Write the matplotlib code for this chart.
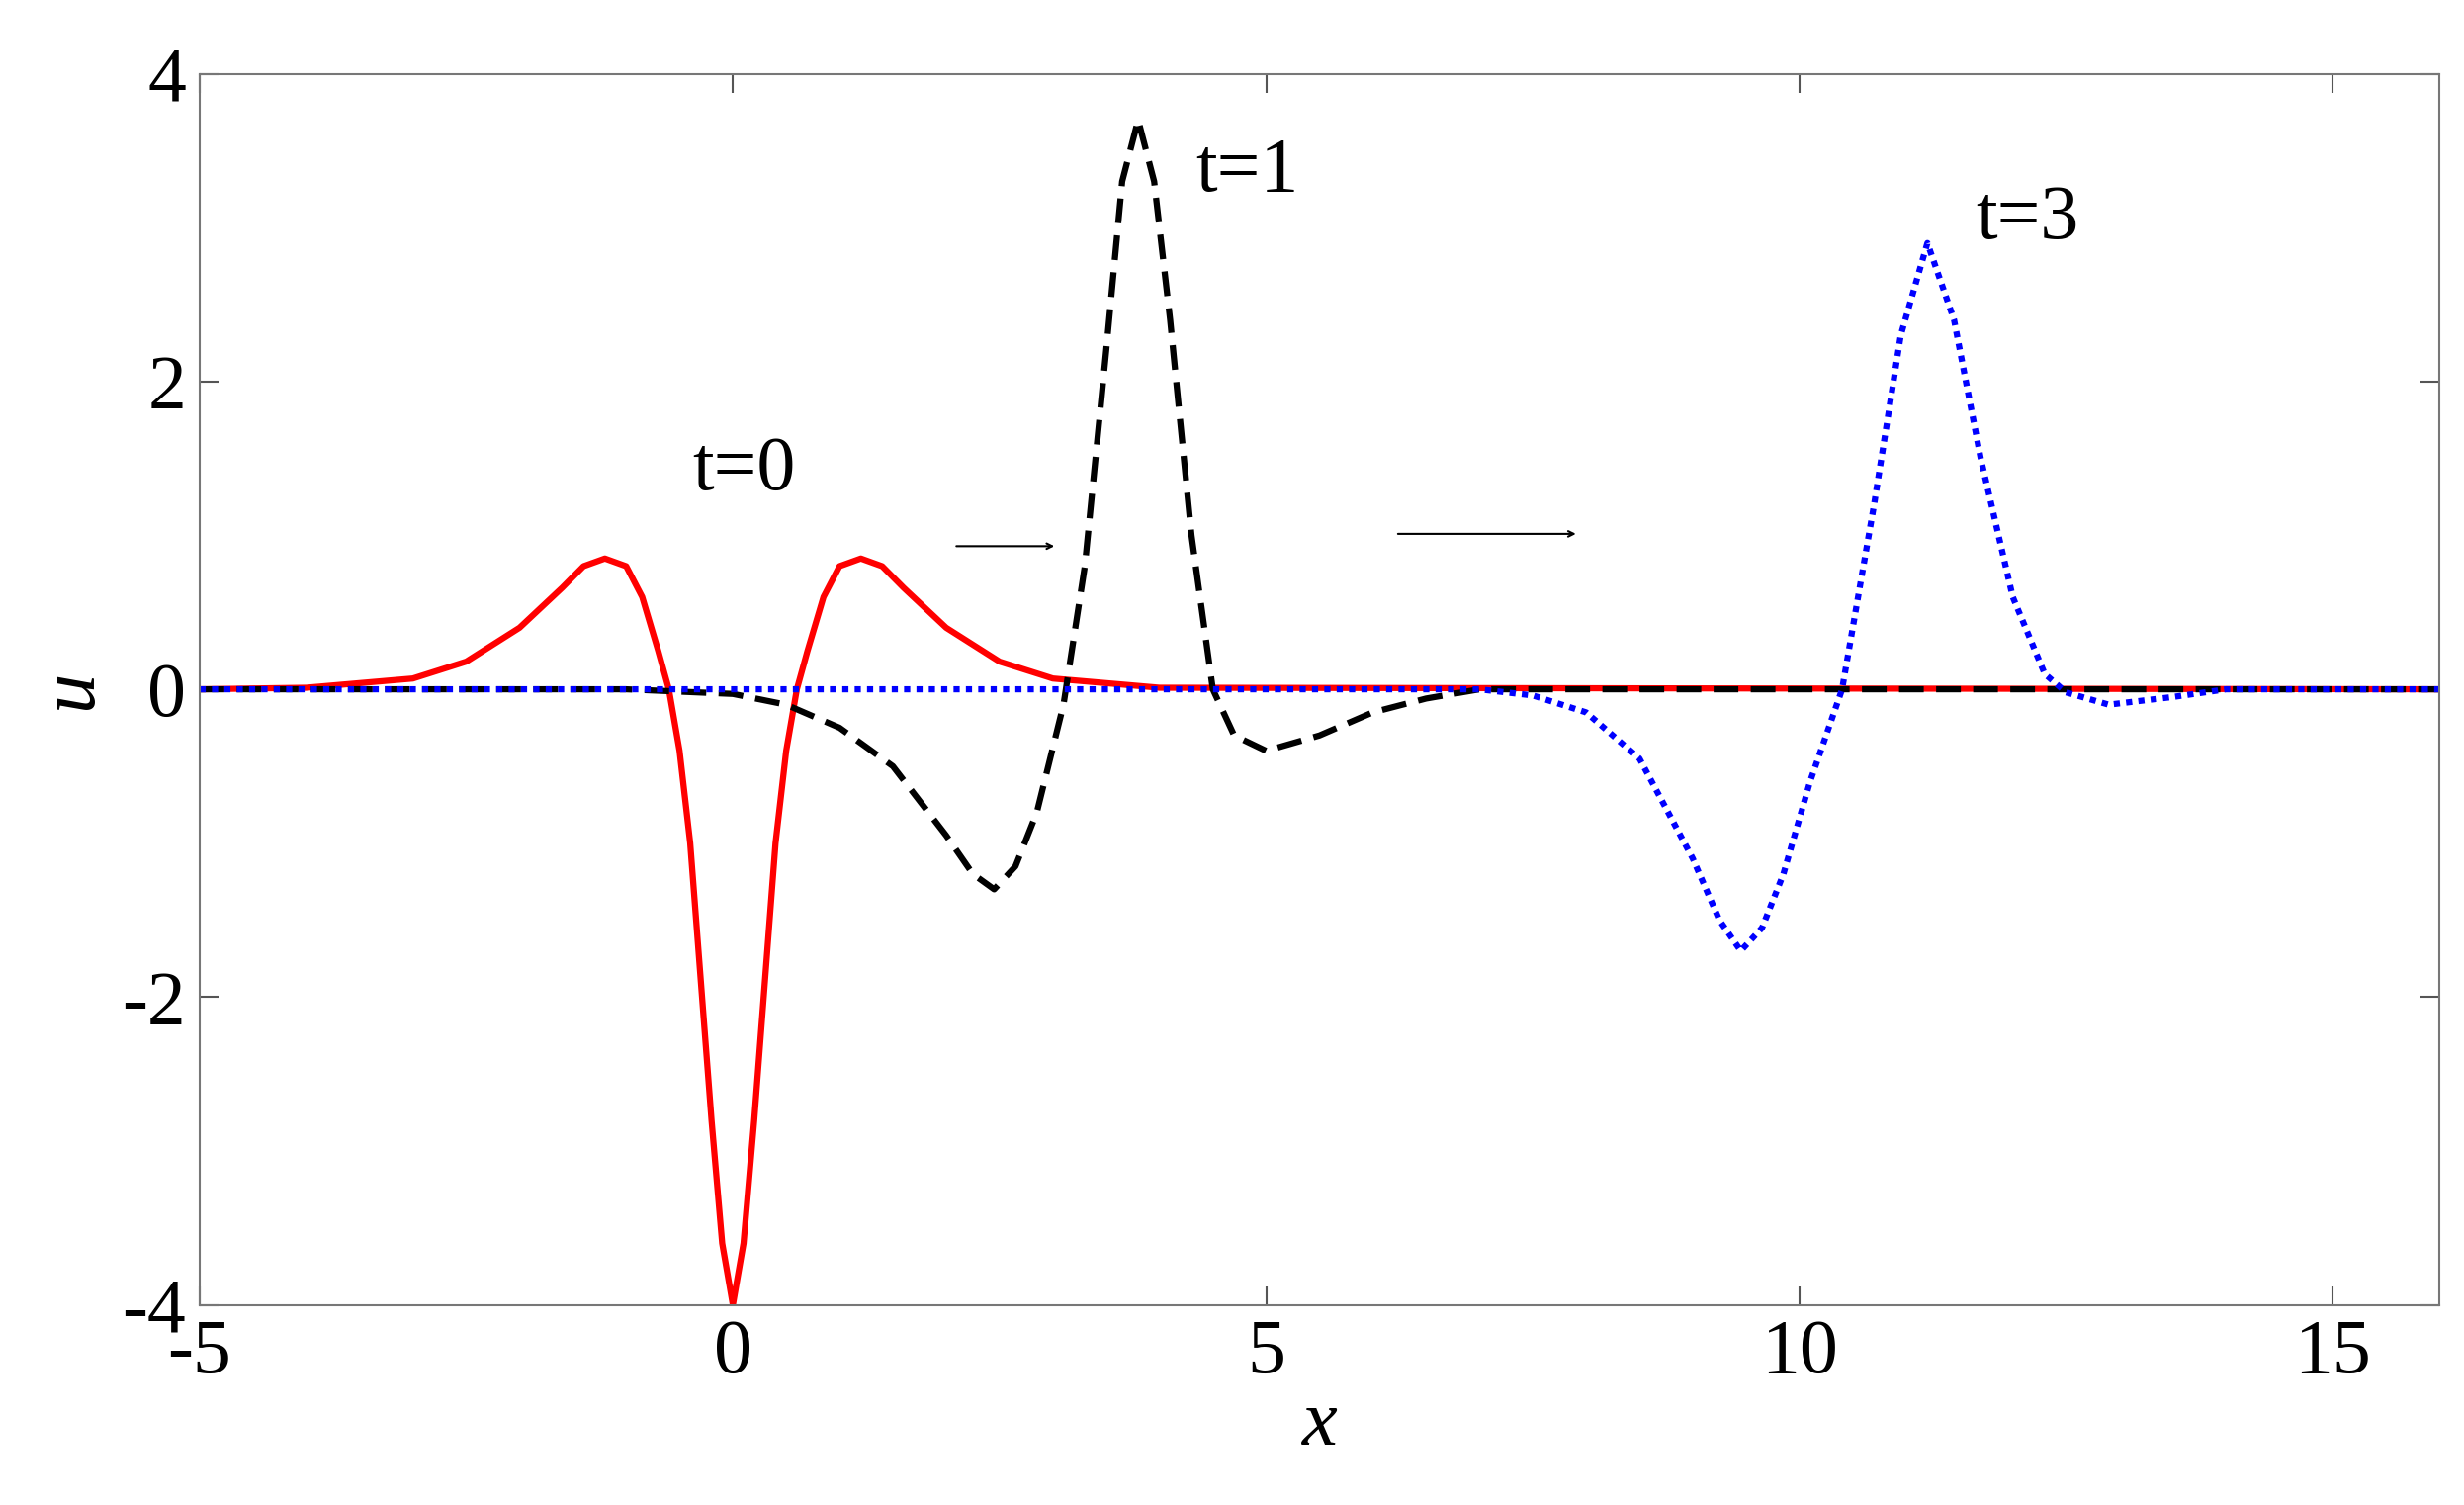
import matplotlib
matplotlib.use("Agg")
import matplotlib.pyplot as plt

x0 = [-5, -4, -3, -2.5, -2, -1.6, -1.4, -1.2, -1.0, -0.85, -0.7, -0.6, -0.5, -0.4, -0.3, -0.2, -0.1, 0,
      0.1, 0.2, 0.3, 0.4, 0.5, 0.6, 0.7, 0.85, 1.0, 1.2, 1.4, 1.6, 2, 2.5, 3, 4, 16]
u0 = [0, 0.01, 0.07, 0.18, 0.4, 0.66, 0.8, 0.85, 0.8, 0.6, 0.25, 0.0, -0.4, -1.0, -1.9, -2.8, -3.6, -4.0,
      -3.6, -2.8, -1.9, -1.0, -0.4, 0.0, 0.25, 0.6, 0.8, 0.85, 0.8, 0.66, 0.4, 0.18, 0.07, 0.01, 0]

x1 = [-5, -1, 0, 0.5, 1, 1.5, 2, 2.25, 2.45, 2.65, 2.85, 3.1, 3.3, 3.5, 3.65, 3.8, 3.95, 4.1, 4.3, 4.5,
      4.7, 5.0, 5.5, 6, 6.5, 7, 16]
u1 = [0, 0, -0.03, -0.1, -0.25, -0.5, -0.95, -1.2, -1.3, -1.15, -0.8, -0.1, 0.8, 2.2, 3.3, 3.7, 3.3, 2.4,
      1.0, 0.0, -0.3, -0.4, -0.3, -0.15, -0.06, 0, 0]

x3 = [-5, 7, 7.5, 8, 8.5, 9, 9.25, 9.45, 9.65, 9.85, 10.1, 10.4, 10.7, 10.95, 11.2, 11.45, 11.7, 12.0,
      12.3, 12.5, 12.9, 13.5, 14, 16]
u3 = [0, 0, -0.04, -0.15, -0.45, -1.1, -1.5, -1.7, -1.55, -1.2, -0.6, 0, 1.2, 2.3, 2.9, 2.4, 1.5, 0.6,
      0.1, -0.02, -0.1, -0.05, 0, 0]

plt.rcParams['font.family'] = ['Liberation Serif', 'DejaVu Serif']
plt.rcParams['axes.unicode_minus'] = False
fig = plt.figure(figsize=(24.92, 15.22), dpi=100)
ax = fig.add_axes([0.081, 0.133, 0.909, 0.818])
ax.plot(x0, u0, color='red', lw=4.5)
ax.plot(x1, u1, color='black', lw=4.5, ls=(0, (4, 2)))
ax.plot(x3, u3, color='blue', lw=4.5, ls=(0, (1, 1)))
ax.set_xlim(-5, 16)
ax.set_ylim(-4, 4)
ax.set_xticks([-5, 0, 5, 10, 15])
ax.set_yticks([-4, -2, 0, 2, 4])
ax.tick_params(direction='in', length=14, width=1.5, labelsize=56, top=True, right=True, pad=10, color='#555555')
for s in ax.spines.values():
    s.set_color('#777777'); s.set_linewidth(1.5)
ax.set_xlabel('x', fontsize=58, style='italic', labelpad=0)
ax.set_ylabel('u', fontsize=58, style='italic', labelpad=10)
ax.text(-0.38, 1.42, 't=0', fontsize=56, va='center')
ax.text(4.34, 3.36, 't=1', fontsize=56, va='center')
ax.text(11.65, 3.05, 't=3', fontsize=56, va='center')
ax.annotate('', xy=(3.04, 0.93), xytext=(2.07, 0.93), arrowprops=dict(arrowstyle='->', lw=1.5, color='black'))
ax.annotate('', xy=(7.93, 1.01), xytext=(6.21, 1.01), arrowprops=dict(arrowstyle='->', lw=1.5, color='black'))
fig.savefig('out.png', dpi=100, facecolor='white')
